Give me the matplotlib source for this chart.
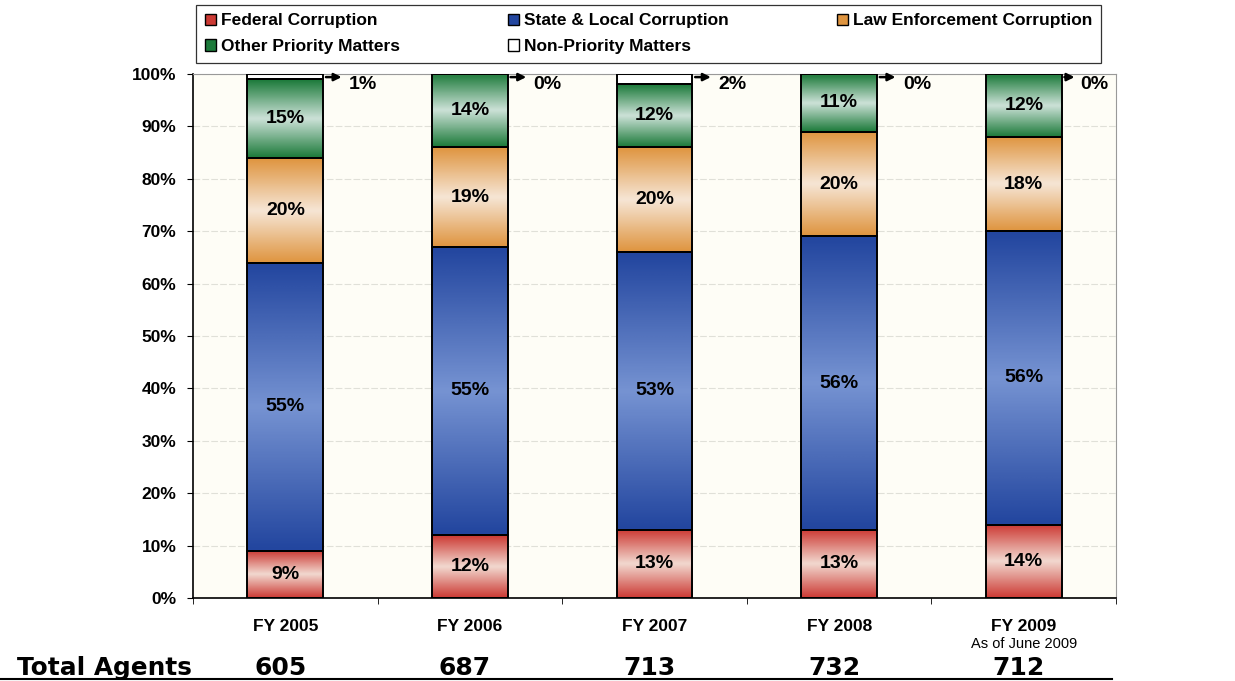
import matplotlib.pyplot as plt
import numpy as np
from matplotlib.colors import LinearSegmentedColormap
from matplotlib.patches import Patch

years = ["FY 2005", "FY 2006", "FY 2007", "FY 2008", "FY 2009"]
totals = ["605", "687", "713", "732", "712"]
series = ["Federal Corruption", "State & Local Corruption", "Law Enforcement Corruption",
          "Other Priority Matters", "Non-Priority Matters"]
federal = [9, 12, 13, 13, 14]
state_local = [55, 55, 53, 56, 56]
law_enf = [20, 19, 20, 20, 18]
other_prio = [15, 14, 12, 11, 12]
non_prio = [1, 0, 2, 0, 0]

# dark edge colour, light middle colour for each series
shades = [("#cc3a34", "#f2d9d0"), ("#23469f", "#7693d2"), ("#df9540", "#f6e6d6"),
          ("#1c7a3a", "#cde2d8"), ("#ffffff", "#ffffff")]

plt.rcParams['font.family'] = ['Liberation Sans', 'DejaVu Sans']
fig = plt.figure(figsize=(12.35, 6.81), dpi=100)
ax = fig.add_axes([0.1563, 0.1219, 0.7474, 0.7695])
ax.set_facecolor("#fefdf6")

x = np.arange(len(years))
w = 0.41
bottom = np.zeros(len(years))
data = [federal, state_local, law_enf, other_prio, non_prio]
grad = np.linspace(0, 1, 64).reshape(-1, 1)
for vals, (dark, light) in zip(data, shades):
    bars = ax.bar(x, vals, w, bottom=bottom, facecolor="none", edgecolor="black",
                  linewidth=1.4, zorder=3)
    cmap = LinearSegmentedColormap.from_list("g", [dark, light, dark])
    for b in bars:
        if b.get_height() <= 0:
            continue
        x0, y0 = b.get_x(), b.get_y()
        ax.imshow(grad, cmap=cmap, aspect="auto",
                  extent=[x0, x0 + b.get_width(), y0, y0 + b.get_height()],
                  origin="lower", zorder=2, interpolation="bicubic")
    bottom += np.array(vals)

# segment labels
bottom = np.zeros(len(years))
for vals in data[:4]:
    for i, v in enumerate(vals):
        ax.text(i, bottom[i] + v / 2, f"{v}%", ha="center", va="center",
                fontsize=14, fontweight="bold", zorder=4)
    bottom += np.array(vals)

for i, v in enumerate(non_prio):
    end, lab = (0.32, 0.345) if i < 4 else (0.29, 0.305)
    ax.annotate("", xy=(i + end, 99.4), xytext=(i + w / 2, 99.4),
                arrowprops=dict(arrowstyle="-|>", color="black", lw=1.8, mutation_scale=11), zorder=5)
    ax.text(i + lab, 97.9, f"{v}%", ha="left", va="center", fontsize=14, fontweight="bold")

ax.set_xlim(-0.5, 4.5)
ax.set_ylim(0, 100)
ax.set_yticks(np.arange(0, 101, 10))
ax.set_yticklabels([f"{t}%" for t in range(0, 101, 10)], fontsize=12.5, fontweight="bold")
ax.set_xticks(x)
ax.set_xticklabels(years, fontsize=12.5, fontweight="bold")
ax.tick_params(axis="x", length=0, pad=15)
ax.set_xticks(np.arange(-0.5, 5, 1), minor=True)
ax.tick_params(axis="x", which="minor", length=4, direction="out")
ax.tick_params(axis="y", length=4, direction="out", pad=8)
ax.grid(axis="y", color="#e0e0d8", lw=0.8, ls=(0, (6, 2)), zorder=0)
for s in ["top", "right"]:
    ax.spines[s].set_color("#999999")
ax.spines["left"].set_linewidth(1.2)
ax.spines["bottom"].set_linewidth(1.2)

ax.text(4, -8.7, "As of June 2009", ha="center", va="center", fontsize=10.5)

# row-wise legend order as in the original
order = [0, 3, 1, 4, 2]
handles = [Patch(facecolor=shades[k][0], edgecolor="black", label=series[k]) for k in order]
leg = fig.legend(handles=handles, ncol=3, loc="upper left", bbox_to_anchor=(0.1587, 0.993),
                 fontsize=12.5, frameon=True, fancybox=False, edgecolor="black",
                 handlelength=0.65, handleheight=0.65, handletextpad=0.3, columnspacing=6.2,
                 borderpad=0.5, labelspacing=0.6, borderaxespad=0)
for t in leg.get_texts():
    t.set_fontweight("bold")
leg.get_frame().set_linewidth(0.9)

fig.text(0.014, 0.009, "Total Agents", fontsize=17.8, fontweight="bold", family="DejaVu Sans",
         ha="left", va="baseline")
for i, t in enumerate(totals):
    xf = ax.transData.transform((i, 0))[0] / fig.bbox.width
    fig.text(xf - 0.004, 0.009, t, fontsize=18, fontweight="bold", family="DejaVu Sans",
             ha="center", va="baseline")
fig.add_artist(plt.Line2D([0.0, 0.9], [0.003, 0.003], color="black", lw=1.5))

fig.savefig("out.png", dpi=100)
